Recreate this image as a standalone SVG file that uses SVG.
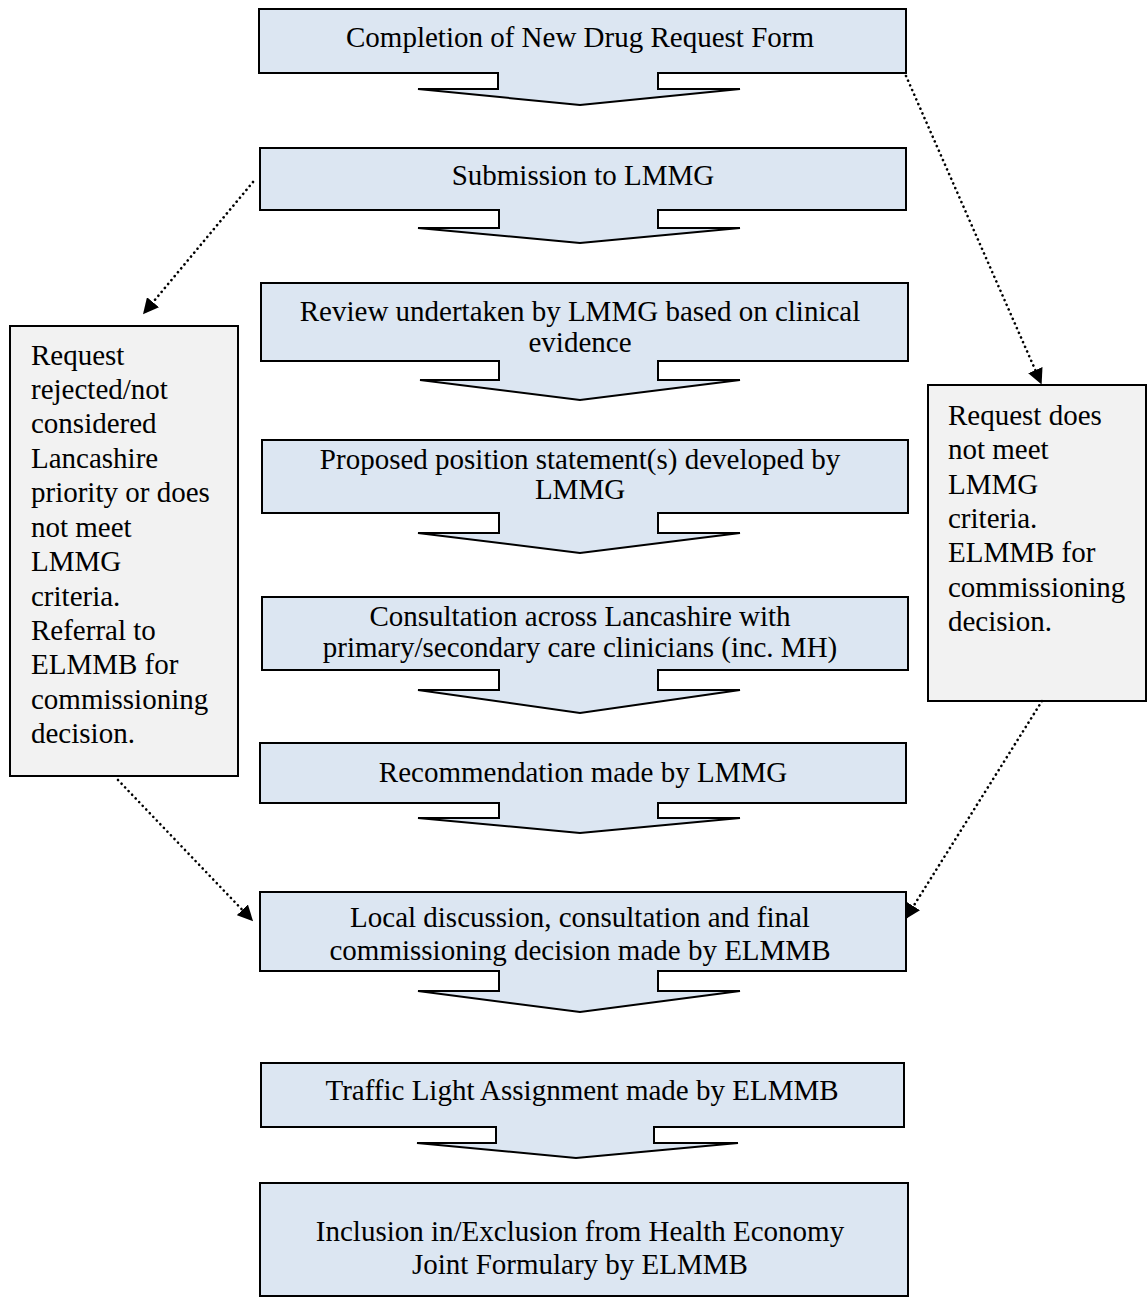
<svg xmlns="http://www.w3.org/2000/svg" width="1147" height="1297" viewBox="0 0 1147 1297">
<defs>
<style>
.c{fill:#dce6f2;stroke:#000;stroke-width:2}
.s{fill:#f2f2f2;stroke:#000;stroke-width:2}
text{font-family:"Liberation Serif","Times New Roman",serif;font-size:29px;fill:#000}
.m{text-anchor:middle}
.d{fill:none;stroke:#000;stroke-width:2.6;stroke-linecap:round;stroke-dasharray:0.1 5}
</style>
<marker id="ah" viewBox="0 0 10 10" refX="9" refY="5" markerWidth="6" markerHeight="6" orient="auto" markerUnits="strokeWidth"><path d="M0,0 L10,5 L0,10 z" fill="#000"/></marker>
</defs>
<rect width="1147" height="1297" fill="#fff"/>
<g id="n1"><path class="c" d="M259,9 H906 V73 H658 V89 H740 L580,105 L418,89 H498 V73 H259 Z"/><text class="m" x="580" y="47">Completion of New Drug Request Form</text></g>
<g id="n2"><path class="c" d="M260,148 H906 V210 H658 V228 H740 L580,243 L418,228 H499 V210 H260 Z"/><text class="m" x="583" y="185">Submission to LMMG</text></g>
<g id="n3"><path class="c" d="M261,283 H908 V361 H658 V380 H740 L580,400 L420,380 H499 V361 H261 Z"/><text class="m" x="580" y="321">Review undertaken by LMMG based on clinical</text><text class="m" x="580" y="352">evidence</text></g>
<g id="n4"><path class="c" d="M262,440 H908 V513 H658 V533 H740 L580,553 L418,533 H499 V513 H262 Z"/><text class="m" x="580" y="469">Proposed position statement(s) developed by</text><text class="m" x="580" y="499">LMMG</text></g>
<g id="n5"><path class="c" d="M262,597 H908 V670 H658 V690 H740 L580,713 L418,690 H499 V670 H262 Z"/><text class="m" x="580" y="626">Consultation across Lancashire with</text><text class="m" x="580" y="657">primary/secondary care clinicians (inc. MH)</text></g>
<g id="n6"><path class="c" d="M260,743 H906 V803 H658 V818 H740 L580,833 L418,818 H499 V803 H260 Z"/><text class="m" x="583" y="782">Recommendation made by LMMG</text></g>
<g id="n7"><path class="c" d="M260,892 H906 V971 H658 V991 H740 L580,1012 L418,991 H499 V971 H260 Z"/><text class="m" x="580" y="927">Local discussion, consultation and final</text><text class="m" x="580" y="960">commissioning decision made by ELMMB</text></g>
<g id="n8"><path class="c" d="M261,1063 H904 V1127 H654 V1143 H738 L576,1158 L417,1143 H496 V1127 H261 Z"/><text class="m" x="582" y="1100">Traffic Light Assignment made by ELMMB</text></g>
<g id="n9"><path class="c" d="M260,1183 H908 V1296 H260 Z"/><text class="m" x="580" y="1241">Inclusion in/Exclusion from Health Economy</text><text class="m" x="580" y="1274">Joint Formulary by ELMMB</text></g>
<g id="left"><rect class="s" x="10" y="326" width="228" height="450"/>
<text x="31" y="365">Request</text><text x="31" y="399">rejected/not</text><text x="31" y="433">considered</text><text x="31" y="468">Lancashire</text><text x="31" y="502">priority or does</text><text x="31" y="537">not meet</text><text x="31" y="571">LMMG</text><text x="31" y="606">criteria.</text><text x="31" y="640">Referral to</text><text x="31" y="674">ELMMB for</text><text x="31" y="709">commissioning</text><text x="31" y="743">decision.</text></g>
<g id="right"><rect class="s" x="928" y="385" width="218" height="316"/>
<text x="948" y="425">Request does</text><text x="948" y="459">not meet</text><text x="948" y="494">LMMG</text><text x="948" y="528">criteria.</text><text x="948" y="562">ELMMB for</text><text x="948" y="597">commissioning</text><text x="948" y="631">decision.</text></g>
<g id="connectors">
<line class="d" x1="253" y1="182" x2="144" y2="313" marker-end="url(#ah)"/>
<line class="d" x1="906" y1="76" x2="1041" y2="383" marker-end="url(#ah)"/>
<line class="d" x1="118" y1="780" x2="252" y2="920" marker-end="url(#ah)"/>
<line class="d" x1="1042" y1="701" x2="906" y2="918" marker-end="url(#ah)"/>
</g>
</svg>
